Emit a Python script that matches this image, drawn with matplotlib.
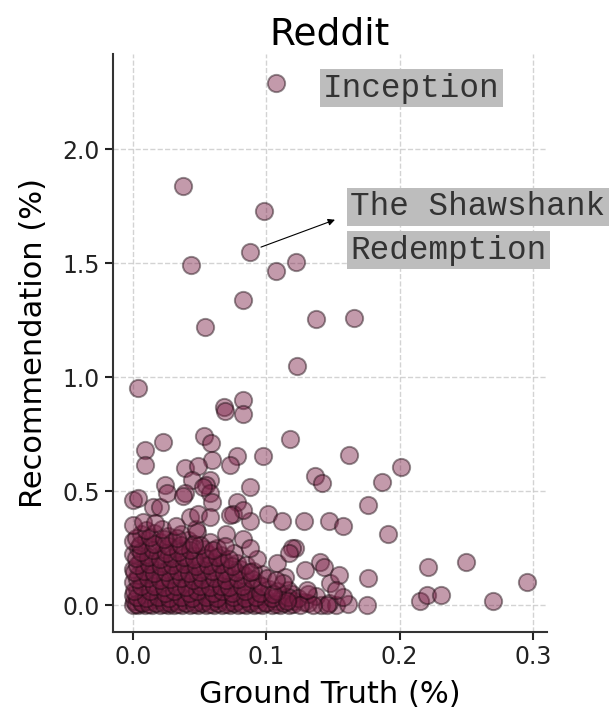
import matplotlib
matplotlib.use('Agg')
from matplotlib import pyplot as plt
import numpy as np

# points away from the crowded corner (ground truth %, recommendation %)
tail_points = [
    (0.107, 2.29), (0.0375, 1.84), (0.098, 1.73), (0.088, 1.55), (0.0435, 1.49),
    (0.107, 1.465), (0.122, 1.505), (0.0825, 1.34), (0.054, 1.22), (0.137, 1.255),
    (0.166, 1.26), (0.123, 1.05), (0.004, 0.95), (0.068, 0.87), (0.069, 0.85),
    (0.0825, 0.90), (0.0825, 0.84), (0.118, 0.73), (0.0225, 0.715), (0.009, 0.68),
    (0.009, 0.615), (0.053, 0.74), (0.0585, 0.71), (0.0975, 0.655), (0.078, 0.655),
    (0.073, 0.615), (0.059, 0.635), (0.039, 0.60), (0.049, 0.61), (0.044, 0.55),
    (0.058, 0.55), (0.024, 0.525), (0.088, 0.52), (0.1365, 0.565), (0.142, 0.535),
    (0.162, 0.66), (0.201, 0.605), (0.187, 0.54), (0.176, 0.44), (0.128, 0.37),
    (0.147, 0.37), (0.1575, 0.345), (0.191, 0.31), (0.221, 0.165), (0.25, 0.19),
    (0.2955, 0.10), (0.176, 0.12), (0.215, 0.02), (0.2205, 0.045), (0.231, 0.045),
    (0.27, 0.02), (0.1755, 0.0), (0.161, 0.005), (0.1575, 0.035), (0.148, 0.095),
    (0.14, 0.19), (0.1215, 0.25), (0.108, 0.185), (0.101, 0.40), (0.112, 0.37),
    (0.088, 0.37), (0.0, 0.46), (0.004, 0.47), (0.015, 0.43), (0.02, 0.43),
    (0.039, 0.49), (0.0255, 0.49), (0.055, 0.525), (0.058, 0.49), (0.059, 0.45),
    (0.078, 0.45), (0.075, 0.40), (0.0825, 0.415), (0.043, 0.385), (0.073, 0.395),
    (0.0075, 0.365), (0.0165, 0.36), (0.0375, 0.48), (0.0525, 0.52), (0.049, 0.40),
    (0.058, 0.385), (0.129, 0.155), (0.1125, 0.095), (0.131, 0.05), (0.1455, 0.0),
    (0.135, 0.0), (0.125, 0.0), (0.1155, 0.02), (0.105, 0.05), (0.1005, 0.12),
    (0.093, 0.20), (0.119, 0.25), (0.117, 0.23), (0.1435, 0.165), (0.1545, 0.13),
    (0.1525, 0.065), (0.1305, 0.065), (0.1075, 0.11), (0.0875, 0.25), (0.0875, 0.145),
]

# crowded corner near the origin
core_points = [
    (0.000, 0.00), (0.004, 0.00), (0.009, 0.00), (0.014, 0.00), (0.020, 0.00), (0.026, 0.00),
    (0.031, 0.00), (0.037, 0.00), (0.043, 0.00), (0.049, 0.00), (0.055, 0.00), (0.061, 0.00),
    (0.067, 0.00), (0.073, 0.00), (0.079, 0.00), (0.085, 0.00), (0.091, 0.00), (0.097, 0.00),
    (0.104, 0.00), (0.110, 0.00), (0.117, 0.00), (0.141, 0.00), (0.152, 0.00),
    (0.001, 0.02), (0.006, 0.015), (0.012, 0.02), (0.018, 0.025), (0.024, 0.015), (0.029, 0.02),
    (0.035, 0.02), (0.041, 0.025), (0.047, 0.015), (0.053, 0.02), (0.060, 0.02), (0.066, 0.025),
    (0.072, 0.015), (0.078, 0.02), (0.088, 0.02), (0.094, 0.025), (0.100, 0.015), (0.108, 0.02),
    (0.121, 0.02), (0.128, 0.015),
    (0.000, 0.045), (0.008, 0.05), (0.016, 0.04), (0.022, 0.05), (0.033, 0.045), (0.039, 0.05),
    (0.045, 0.04), (0.051, 0.05), (0.058, 0.045), (0.064, 0.04), (0.070, 0.05), (0.081, 0.045),
    (0.087, 0.05), (0.098, 0.04), (0.112, 0.045), (0.119, 0.05), (0.137, 0.04),
    (0.003, 0.07), (0.011, 0.075), (0.019, 0.07), (0.027, 0.065), (0.036, 0.075), (0.044, 0.07),
    (0.054, 0.065), (0.062, 0.075), (0.069, 0.07), (0.077, 0.065), (0.090, 0.075), (0.102, 0.07),
    (0.116, 0.065),
    (0.000, 0.10), (0.007, 0.105), (0.015, 0.095), (0.024, 0.10), (0.032, 0.105), (0.041, 0.095),
    (0.048, 0.10), (0.057, 0.105), (0.066, 0.095), (0.075, 0.10), (0.084, 0.105), (0.093, 0.095),
    (0.004, 0.13), (0.012, 0.135), (0.021, 0.125), (0.030, 0.13), (0.038, 0.135), (0.046, 0.125),
    (0.055, 0.13), (0.064, 0.135), (0.073, 0.125), (0.083, 0.13), (0.097, 0.135), (0.114, 0.125),
    (0.000, 0.16), (0.009, 0.165), (0.017, 0.155), (0.026, 0.16), (0.035, 0.165), (0.044, 0.155),
    (0.052, 0.16), (0.061, 0.165), (0.070, 0.155), (0.080, 0.16),
    (0.005, 0.19), (0.013, 0.195), (0.022, 0.185), (0.031, 0.19), (0.040, 0.195), (0.050, 0.185),
    (0.059, 0.19), (0.068, 0.195), (0.078, 0.185),
    (0.000, 0.225), (0.009, 0.22), (0.018, 0.215), (0.027, 0.225), (0.037, 0.22), (0.047, 0.215),
    (0.056, 0.225), (0.066, 0.22), (0.076, 0.23),
    (0.004, 0.25), (0.013, 0.255), (0.023, 0.245), (0.033, 0.25), (0.044, 0.255), (0.053, 0.245),
    (0.063, 0.25), (0.0825, 0.29),
    (0.000, 0.28), (0.010, 0.285), (0.020, 0.275), (0.030, 0.28), (0.041, 0.285), (0.048, 0.32),
    (0.058, 0.275),
    (0.006, 0.31), (0.016, 0.315), (0.026, 0.305), (0.036, 0.31), (0.070, 0.31),
]

# second layer of the corner, sitting between the first
core_points_2 = [
    (0.002, 0.005), (0.007, 0.01), (0.012, 0.005), (0.017, 0.01), (0.023, 0.005), (0.028, 0.01),
    (0.034, 0.005), (0.040, 0.01), (0.046, 0.005), (0.052, 0.01), (0.058, 0.005), (0.064, 0.01),
    (0.070, 0.005), (0.076, 0.01), (0.082, 0.005), (0.088, 0.01), (0.094, 0.005), (0.100, 0.01),
    (0.107, 0.005), (0.113, 0.01), (0.120, 0.005), (0.131, 0.01), (0.147, 0.01),
    (0.003, 0.035), (0.010, 0.03), (0.019, 0.035), (0.027, 0.03), (0.036, 0.035), (0.044, 0.03),
    (0.055, 0.035), (0.063, 0.03), (0.075, 0.035), (0.084, 0.03), (0.092, 0.035), (0.104, 0.03),
    (0.116, 0.035), (0.124, 0.03),
    (0.001, 0.06), (0.013, 0.06), (0.024, 0.055), (0.031, 0.06), (0.042, 0.055), (0.048, 0.06),
    (0.060, 0.055), (0.067, 0.06), (0.074, 0.055), (0.084, 0.06), (0.095, 0.055), (0.108, 0.06),
    (0.006, 0.085), (0.016, 0.085), (0.023, 0.08), (0.032, 0.085), (0.040, 0.08), (0.050, 0.085),
    (0.058, 0.08), (0.066, 0.085), (0.072, 0.08), (0.082, 0.085), (0.097, 0.085),
    (0.003, 0.115), (0.011, 0.12), (0.020, 0.11), (0.028, 0.115), (0.036, 0.12), (0.045, 0.11),
    (0.052, 0.115), (0.061, 0.12), (0.070, 0.11), (0.079, 0.115), (0.089, 0.115),
    (0.001, 0.145), (0.008, 0.15), (0.016, 0.14), (0.025, 0.145), (0.034, 0.15), (0.042, 0.14),
    (0.050, 0.145), (0.059, 0.15), (0.068, 0.14), (0.077, 0.145), (0.090, 0.15),
    (0.003, 0.175), (0.012, 0.18), (0.021, 0.17), (0.029, 0.175), (0.038, 0.18), (0.047, 0.17),
    (0.056, 0.175), (0.065, 0.18), (0.074, 0.17), (0.085, 0.175),
    (0.002, 0.205), (0.011, 0.21), (0.020, 0.2), (0.029, 0.205), (0.038, 0.21), (0.046, 0.2),
    (0.054, 0.205), (0.063, 0.21), (0.072, 0.2),
    (0.006, 0.235), (0.015, 0.24), (0.025, 0.23), (0.034, 0.235), (0.043, 0.24), (0.050, 0.265),
    (0.060, 0.24), (0.069, 0.26),
    (0.005, 0.265), (0.016, 0.27), (0.026, 0.26), (0.036, 0.265), (0.046, 0.27), (0.047, 0.335),
    (0.002, 0.295), (0.013, 0.3), (0.023, 0.29), (0.033, 0.295), (0.010, 0.33), (0.022, 0.335),
    (0.000, 0.35), (0.032, 0.345),
]

title = 'Reddit'
x_label = 'Ground Truth (%)'
y_label = 'Recommendation (%)'
x_ticks = [0.0, 0.1, 0.2, 0.3]
y_ticks = [0.0, 0.5, 1.0, 1.5, 2.0]

pts = np.array(core_points + core_points_2 + tail_points)
gt, rec = pts[:, 0], pts[:, 1]

fig = plt.figure(figsize=(6.13, 7.15), dpi=100)
ax = fig.add_axes([0.1843, 0.1161, 0.7080, 0.8084])

ax.grid(True, linestyle='--', color='#c8c8c8', linewidth=1.0, alpha=0.8, zorder=0)
ax.set_axisbelow(True)
ax.scatter(gt, rec, s=155, color='#7a1f45', alpha=0.45, edgecolors='#1a0a10', linewidths=1.4, zorder=3)

ax.set_xlim(-0.015, 0.3105)
ax.set_ylim(-0.118, 2.417)
ax.set_xticks(x_ticks)
ax.set_yticks(y_ticks)
ax.set_xticklabels(['%.1f' % t for t in x_ticks])
ax.set_yticklabels(['%.1f' % t for t in y_ticks])
ax.tick_params(labelsize=17, length=6, width=1.5, colors='#222222')
for side in ['top', 'right']:
    ax.spines[side].set_visible(False)
for side in ['left', 'bottom']:
    ax.spines[side].set_linewidth(1.5)
    ax.spines[side].set_color('#333333')

ax.set_title(title, fontsize=27, pad=7)
ax.set_xlabel(x_label, fontsize=22, labelpad=8)
ax.set_ylabel(y_label, fontsize=22, labelpad=10)

# movie labels
box = dict(boxstyle='square,pad=0.1', facecolor='#bdbdbd', edgecolor='none')
ax.text(0.1425, 2.267, 'Inception', family='Liberation Mono', fontsize=23.5,
        color='#333333', ha='left', va='center', bbox=box, zorder=5)
ax.text(0.163, 1.746, 'The Shawshank', family='Liberation Mono', fontsize=23.5,
        color='#333333', ha='left', va='center', bbox=box, zorder=5)
ax.text(0.163, 1.557, 'Redemption', family='Liberation Mono', fontsize=23.5,
        color='#333333', ha='left', va='center', bbox=box, zorder=5)
ax.annotate('', xy=(0.1515, 1.69), xytext=(0.096, 1.57),
            arrowprops=dict(arrowstyle='-|>', color='black', lw=0.8, mutation_scale=10,
                            shrinkA=0, shrinkB=0), zorder=6)

fig.savefig('out.png', dpi=100)
